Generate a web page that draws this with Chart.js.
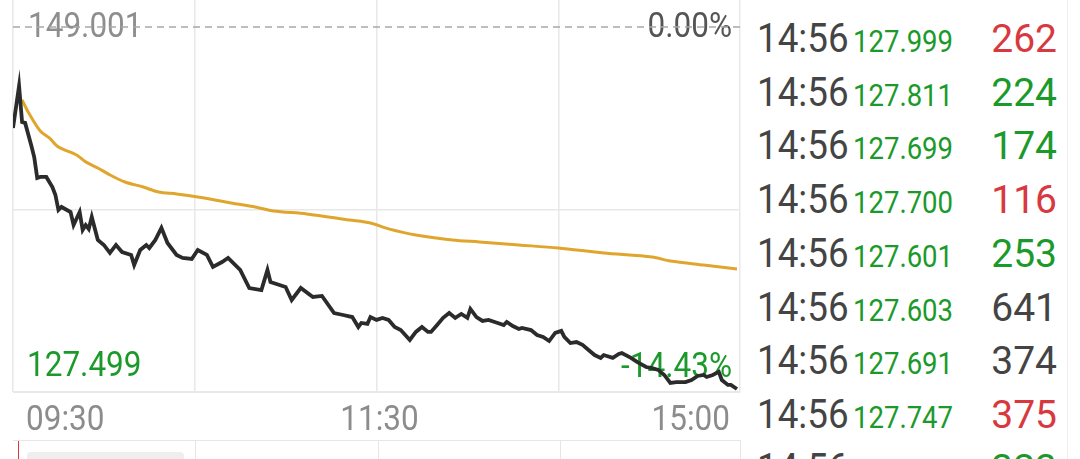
<!DOCTYPE html>
<html>
<head>
<meta charset="utf-8">
<script src="https://cdn.jsdelivr.net/npm/chart.js@4.4.0/dist/chart.umd.min.js"></script>
<style>
  body { margin: 0; background: #fff; width: 1080px; height: 459px; overflow: hidden; position: relative; font-family: Roboto, "Noto Sans", sans-serif; }
  #wrap { position: absolute; left: 0; top: 0; width: 745px; height: 440px; }
  .line { position: absolute; background: #e6e6e6; }
  .row { position: absolute; left: 757px; width: 300px; display: flex; align-items: baseline; line-height: 38px; white-space: nowrap; }
  .row .t { font-size: 40px; color: #444; display: inline-block; transform: scaleX(0.92); transform-origin: left; width: 92px; }
  .row .p { font-size: 32px; display: inline-block; transform: scaleX(0.86); transform-origin: left; margin-left: 4px; width: 100px; }
  .row .v { font-size: 39px; margin-left: auto; }
</style>
</head>
<body>
<div id="wrap"><canvas id="Chart1"></canvas></div>

<!-- lower panel edge -->
<div class="line" style="left:13px;top:440px;width:728px;height:1px"></div>
<div class="line" style="left:195px;top:441px;width:1px;height:18px"></div>
<div class="line" style="left:378px;top:441px;width:1px;height:18px"></div>
<div class="line" style="left:560px;top:441px;width:1px;height:18px"></div>
<div class="line" style="left:740px;top:441px;width:1px;height:18px"></div>
<div style="position:absolute;left:18px;top:441px;width:1px;height:18px;background:#d8393f"></div>
<div style="position:absolute;left:27px;top:452px;width:157px;height:20px;background:#eeeeee;border-radius:4px"></div>
<div class="line" style="left:1067px;top:0;width:1px;height:459px;background:#eeeeee"></div>

<div id="trades"></div>

<script>
// minutes since 09:30 (lunch break removed) and prices
var priceMinutes = [0, 2, 3, 4, 6, 7, 8, 9, 11, 13, 14, 15, 16, 19, 20, 22, 23, 24, 25, 26, 28, 30, 32, 34, 36, 39, 40, 42, 44, 45, 47, 49, 51, 54, 56, 59,
  61, 64, 66, 69, 71, 75, 78, 82, 84, 85, 90, 92, 95, 99, 102, 106, 109, 112, 114, 115, 117, 118, 120,
  122, 124, 126, 128, 131, 133, 135, 137, 138, 140, 142, 144, 146, 148, 150, 151, 153, 155, 157, 160, 162, 163, 165, 167, 168,
  171, 173, 175, 177, 179, 181, 182, 184, 186, 188, 190, 192, 194, 195, 198, 200, 201, 204, 206, 209, 211, 213, 215, 217, 219,
  222, 224, 226, 228, 229, 231, 233, 234, 236, 237, 239];
var prices = [143.02, 145.51, 143.37, 143.32, 142.01, 141.30, 140.06, 140.12, 140.12, 139.52, 139.05, 138.16, 138.34, 138.04, 137.27, 138.04, 136.98, 137.27, 137.04, 137.75, 136.39, 136.09, 135.62, 136.09, 135.67, 135.50, 134.90, 135.79, 136.09, 135.91, 136.39, 137.10, 136.21, 135.50, 135.32, 135.26,
  135.79, 135.50, 134.79, 135.08, 135.32, 134.61, 133.54, 133.42, 134.61, 133.90, 133.60, 132.83, 133.54, 133.01, 133.07, 132.06, 131.94, 131.82, 131.23, 131.47, 131.41, 131.82, 131.65,
  131.77, 131.65, 131.23, 131.05, 130.46, 130.94, 131.23, 130.94, 130.94, 131.35, 131.77, 132.06, 131.77, 132.00, 131.77, 132.30, 131.82, 131.59, 131.65, 131.47, 131.35, 131.53, 131.29, 131.11, 131.17,
  131.05, 130.76, 130.64, 130.40, 130.88, 131.00, 130.64, 130.28, 130.34, 130.17, 129.87, 129.57, 129.40, 129.57, 129.40, 129.63, 129.69, 129.40, 129.16, 128.86, 128.80, 128.69, 128.39, 127.92, 127.97,
  127.97, 128.09, 128.33, 128.39, 128.27, 128.39, 128.57, 128.09, 127.80, 127.80, 127.56];

var avgMinutes = [3, 5, 9, 12, 15, 21, 24, 28, 32, 37, 43, 48, 54, 61, 72, 80, 86, 97, 111, 118, 124, 133, 145, 154, 167, 180, 195, 211, 217, 228, 239];
var avgPrices = [144.68, 143.97, 142.84, 142.43, 141.89, 141.42, 141.01, 140.65, 140.24, 139.82, 139.52, 139.23, 139.11, 138.93, 138.58, 138.34, 138.10, 137.93, 137.57, 137.39, 137.04, 136.68, 136.39, 136.27, 136.09, 135.91, 135.62, 135.38, 135.14, 134.90, 134.67];

var preClose = 149.001;
var lowPrice = 127.499;
var preCloseLabel = '149.001';
var upPctLabel = '0.00%';
var lowLabel = '127.499';
var lowPctLabel = '-14.43%';
var timeTicks = [0, 120, 240];
var timeLabels = ['09:30', '11:30', '15:00'];

// trade ticks list
var tradeTimes = ['14:56', '14:56', '14:56', '14:56', '14:56', '14:56', '14:56', '14:56', '14:56'];
var tradePrices = ['127.999', '127.811', '127.699', '127.700', '127.601', '127.603', '127.691', '127.747', '127.750'];
var tradeVolumes = ['262', '224', '174', '116', '253', '641', '374', '375', '323'];
var tradeSides = ['up', 'down', 'down', 'up', 'down', 'flat', 'flat', 'up', 'down'];

var GREEN = '#1b9a2b', RED = '#d8393f', GREY = '#444444';
var sideColor = { up: RED, down: GREEN, flat: GREY };

var box = document.getElementById('trades');
for (var i = 0; i < tradeTimes.length; i++) {
  var r = document.createElement('div');
  r.className = 'row';
  r.style.top = (20 + i * 53.7) + 'px';
  r.innerHTML = '<span class="t">' + tradeTimes[i] + '</span>' +
    '<span class="p" style="color:' + GREEN + '">' + tradePrices[i] + '</span>' +
    '<span class="v" style="color:' + sideColor[tradeSides[i]] + '">' + tradeVolumes[i] + '</span>';
  box.appendChild(r);
}

// narrow text, like the app font
function narrowText(ctx, text, x, y, align) {
  ctx.save();
  ctx.translate(x, y);
  ctx.scale(0.9, 1);
  ctx.textAlign = align;
  ctx.fillText(text, 0, 0);
  ctx.restore();
}

// labels on the price area, drawn under the lines
var labelsPlugin = {
  id: 'priceLabels',
  beforeDatasetsDraw: function (chart) {
    var ctx = chart.ctx, area = chart.chartArea, y = chart.scales.y;
    var yTop = y.getPixelForValue(preClose);
    ctx.save();
    ctx.font = '35px Roboto';
    ctx.textBaseline = 'alphabetic';
    ctx.fillStyle = '#8e8e8e';
    narrowText(ctx, preCloseLabel, 28, yTop + 10, 'left');
    ctx.fillStyle = '#555555';
    narrowText(ctx, upPctLabel, 732, yTop + 10, 'right');
    ctx.fillStyle = GREEN;
    narrowText(ctx, lowLabel, 27, area.bottom - 16, 'left');
    narrowText(ctx, lowPctLabel, 732, area.bottom - 15, 'right');
    // dashed pre-close line
    ctx.setLineDash([7, 5]);
    ctx.strokeStyle = '#a8a8a8';
    ctx.lineWidth = 1.5;
    ctx.beginPath();
    ctx.moveTo(area.left, yTop);
    ctx.lineTo(area.right, yTop);
    ctx.stroke();
    ctx.restore();
  },
  afterDraw: function (chart) {
    var ctx = chart.ctx, x = chart.scales.x, area = chart.chartArea;
    ctx.save();
    ctx.font = '35px Roboto';
    ctx.fillStyle = '#8c8c8c';
    ctx.textBaseline = 'alphabetic';
    for (var i = 0; i < timeTicks.length; i++) {
      var px = x.getPixelForValue(timeTicks[i]);
      var align = 'center';
      if (i === 0) { align = 'left'; px += 13; }
      else if (i === timeTicks.length - 1) { align = 'right'; px -= 10; }
      else { px += 3; }
      narrowText(ctx, timeLabels[i], px, area.bottom + 38, align);
    }
    ctx.restore();
  }
};

var context = document.getElementById('Chart1').getContext('2d');

var myChart = new Chart(context, {
  type: 'line',
  data: {
    datasets: [{
      data: priceMinutes.map(function (m, i) { return { x: m, y: prices[i] }; }),
      borderColor: '#2b2b2b',
      borderWidth: 3.8,
      pointRadius: 0,
      tension: 0
    }, {
      data: avgMinutes.map(function (m, i) { return { x: m, y: avgPrices[i] }; }),
      borderColor: '#e0a52c',
      borderWidth: 3,
      pointRadius: 0,
      tension: 0.3
    }]
  },
  options: {
    responsive: true,
    maintainAspectRatio: false,
    animation: false,
    layout: { padding: { left: 13, right: 5, top: 0, bottom: 0 } },
    plugins: { legend: { display: false }, tooltip: { enabled: false } },
    scales: {
      x: {
        type: 'linear',
        min: 0,
        max: 240,
        ticks: { display: false, stepSize: 60 },
        grid: { color: '#e8e8e8', lineWidth: 1.5, drawTicks: false },
        border: { color: '#e8e8e8' },
        afterFit: function (s) { s.height = 48; }
      },
      y: {
        min: 127.38,
        max: 150.6,
        ticks: { display: false },
        grid: { color: '#e8e8e8', lineWidth: 1.5, drawTicks: false },
        border: { display: false },
        afterBuildTicks: function (s) { s.ticks = [{ value: 127.38 }, { value: 138.19 }]; },
        afterFit: function (s) { s.width = 0; }
      }
    }
  },
  plugins: [labelsPlugin]
});
</script>
</body>
</html>
